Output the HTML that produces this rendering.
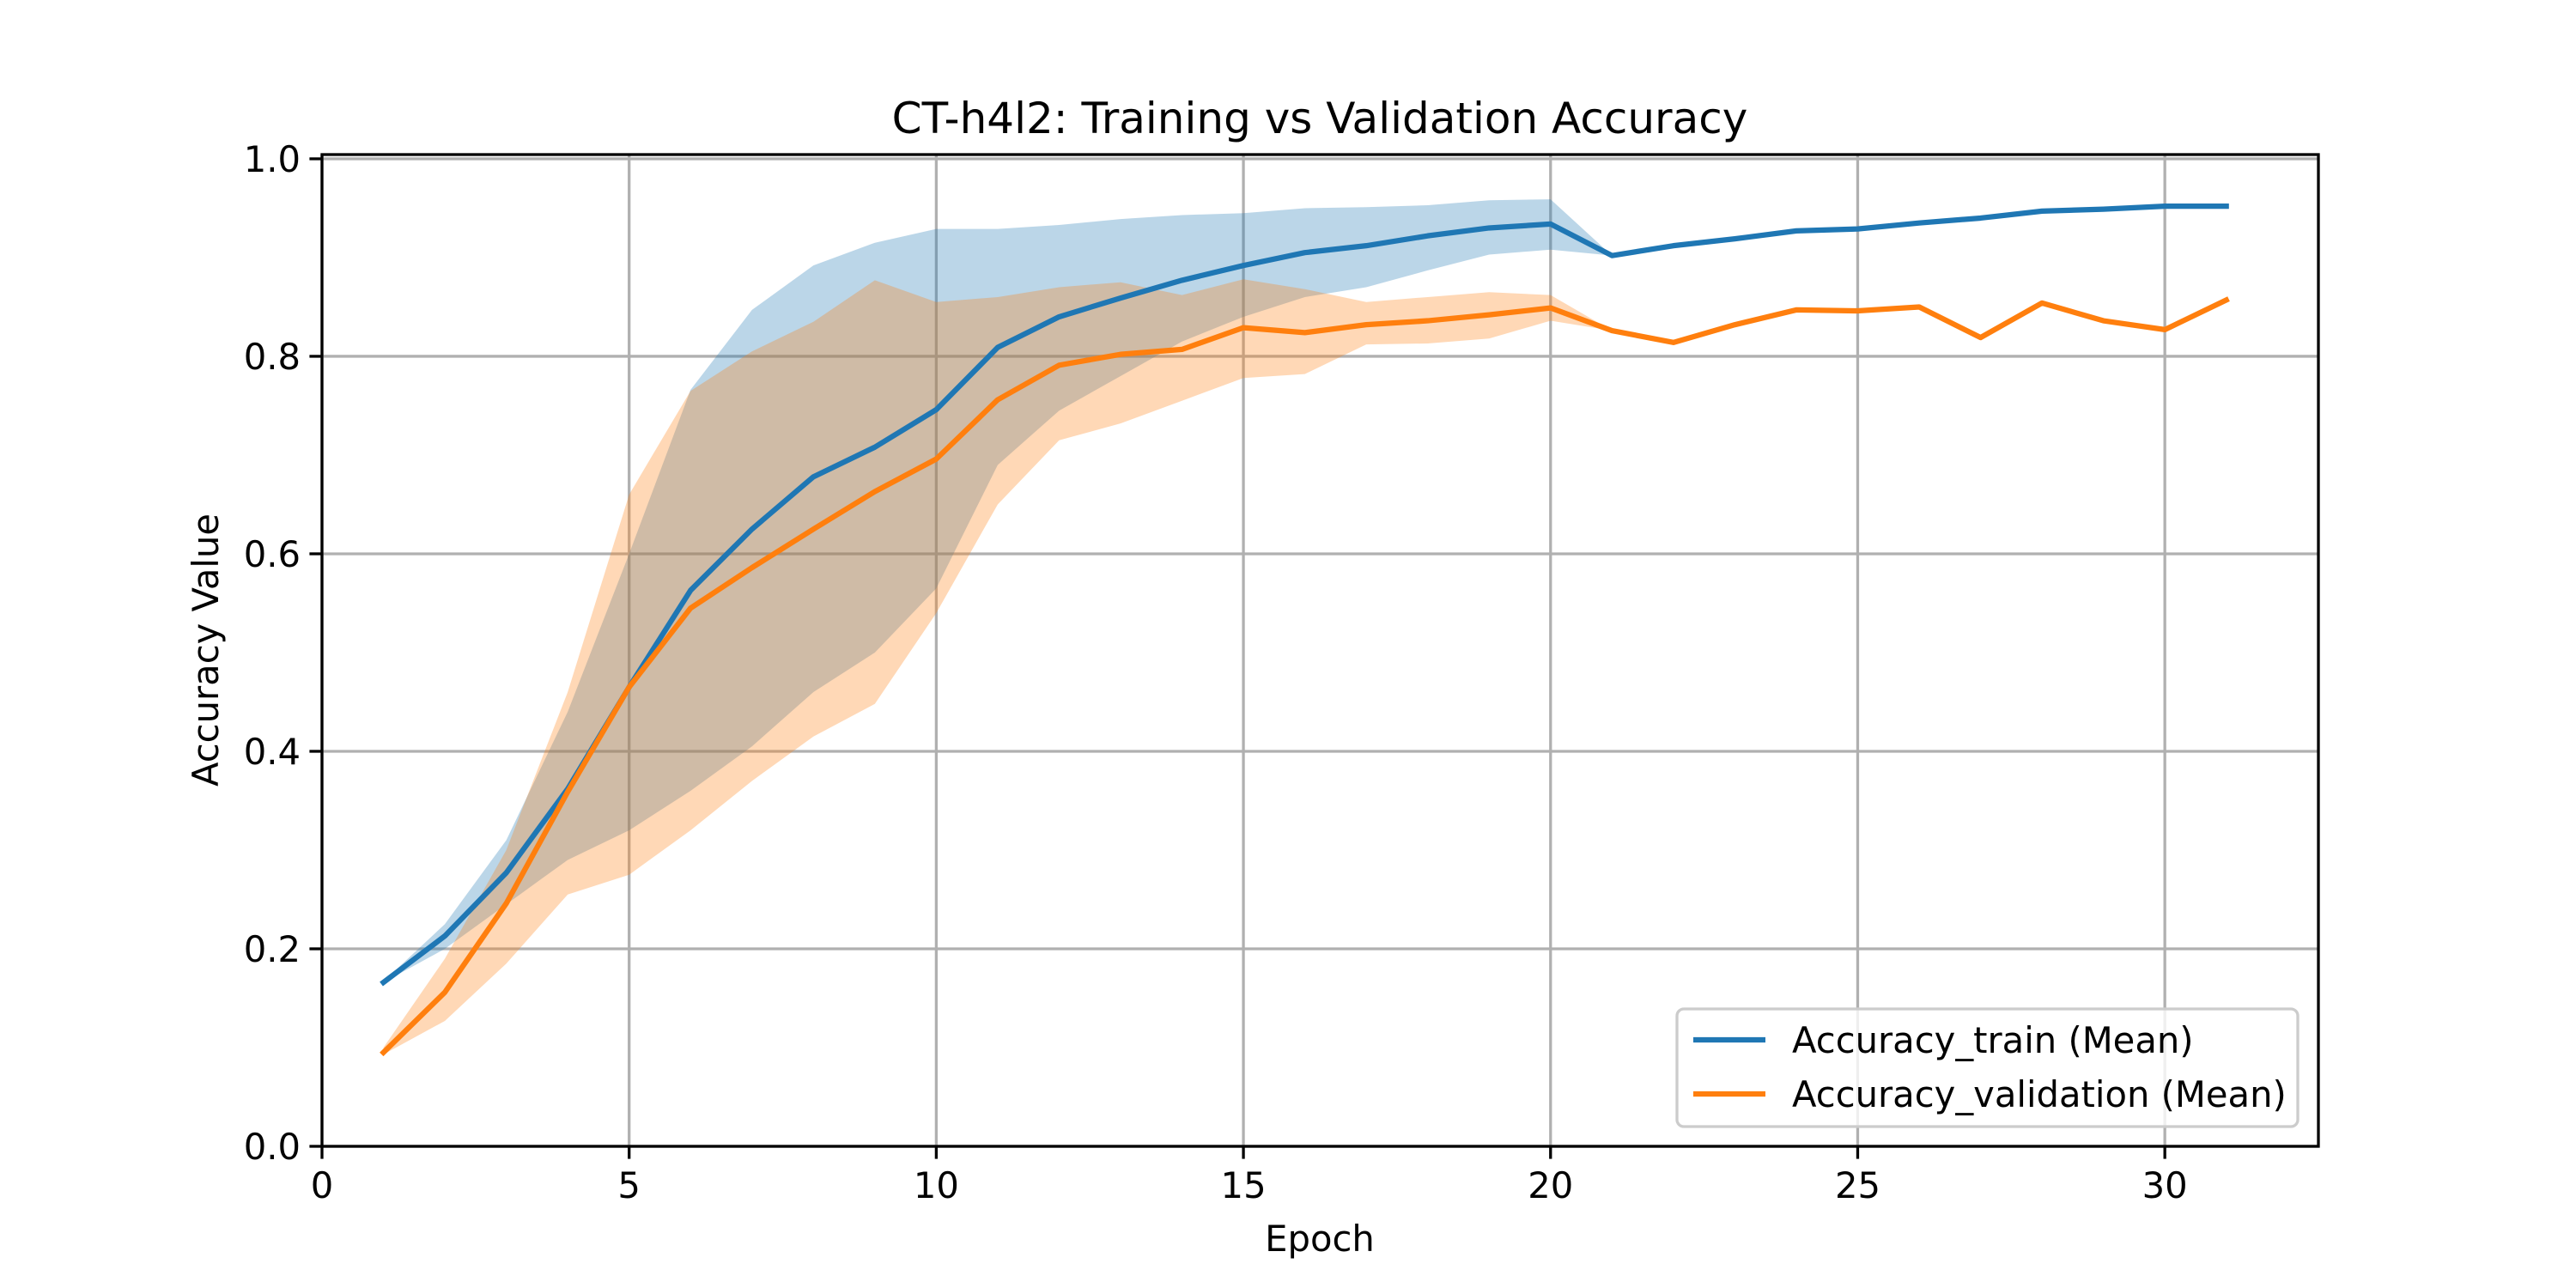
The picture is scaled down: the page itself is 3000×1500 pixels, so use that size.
<!DOCTYPE html>
<html><head><meta charset="utf-8"><style>
html,body{margin:0;padding:0;background:#fff}
svg{display:block;font-family:"DejaVu Sans","Liberation Sans",sans-serif}
</style></head><body>
<svg id="chart" width="3000" height="1500" viewBox="0 0 3000 1500" xmlns="http://www.w3.org/2000/svg">
<rect width="3000" height="1500" fill="#fff"/>
<g id="grid"></g>
<g id="bands"></g>
<g id="lines"></g>
<g id="axes"></g>
<text x="1537" y="155" font-size="50" text-anchor="middle">CT-h4l2: Training vs Validation Accuracy</text>
<text x="1537" y="1457" font-size="41.7" text-anchor="middle">Epoch</text>
<text transform="translate(254,757) rotate(-90)" font-size="41.7" text-anchor="middle">Accuracy Value</text>
<g>
<rect x="1953" y="1175" width="723" height="137" rx="8" fill="#fff" fill-opacity="0.8" stroke="#cccccc" stroke-width="3.3"/>
<line x1="1972" y1="1211" x2="2056" y2="1211" stroke="#1f77b4" stroke-width="6.25"/>
<text x="2087" y="1226" font-size="41.7">Accuracy_train (Mean)</text>
<line x1="1972" y1="1274" x2="2056" y2="1274" stroke="#ff7f0e" stroke-width="6.25"/>
<text x="2087" y="1289" font-size="41.7">Accuracy_validation (Mean)</text>
</g>
</svg>
<script>
const epochs = [1,2,3,4,5,6,7,8,9,10,11,12,13,14,15,16,17,18,19,20,21,22,23,24,25,26,27,28,29,30,31];
const trainMean = [0.166,0.213,0.277,0.362,0.465,0.563,0.625,0.678,0.708,0.746,0.809,0.84,0.859,0.877,0.892,0.905,0.912,0.922,0.930,0.934,0.902,0.912,0.919,0.927,0.929,0.935,0.940,0.947,0.949,0.952,0.952];
const trainUpper = [0.167,0.225,0.31,0.44,0.60,0.766,0.847,0.892,0.915,0.929,0.929,0.933,0.939,0.943,0.945,0.950,0.951,0.953,0.958,0.959,0.902];
const trainLower = [0.166,0.20,0.245,0.29,0.32,0.36,0.405,0.46,0.50,0.565,0.69,0.745,0.78,0.815,0.84,0.86,0.87,0.887,0.903,0.908,0.902];
const valMean = [0.095,0.156,0.246,0.359,0.465,0.545,0.586,0.625,0.663,0.696,0.756,0.791,0.802,0.807,0.829,0.824,0.832,0.836,0.842,0.849,0.826,0.814,0.832,0.847,0.846,0.850,0.819,0.854,0.836,0.827,0.857];
const valUpper = [0.10,0.19,0.30,0.46,0.66,0.765,0.805,0.835,0.877,0.855,0.86,0.87,0.875,0.862,0.878,0.868,0.855,0.86,0.865,0.862,0.826];
const valLower = [0.093,0.127,0.185,0.255,0.275,0.32,0.37,0.415,0.448,0.54,0.65,0.715,0.732,0.755,0.778,0.782,0.812,0.813,0.818,0.836,0.826];
const xTicks = [0,5,10,15,20,25,30];
const yTicks = [0.0,0.2,0.4,0.6,0.8,1.0];
const yTickLabels = ["0.0","0.2","0.4","0.6","0.8","1.0"];

const L=375,R=2700,T=180,B=1335,XMIN=0,XMAX=32.5,YMIN=0,YMAX=1.0043;
const sx=v=>L+(v-XMIN)/(XMAX-XMIN)*(R-L);
const sy=v=>B-(v-YMIN)/(YMAX-YMIN)*(B-T);
const NS="http://www.w3.org/2000/svg";
function mk(tag,parent,attrs){const e=document.createElementNS(NS,tag);for(const k in attrs)e.setAttribute(k,attrs[k]);parent.appendChild(e);return e;}
const grid=document.getElementById('grid'),bands=document.getElementById('bands'),lines=document.getElementById('lines'),axes=document.getElementById('axes');

xTicks.forEach(t=>{
  const g=mk('line',grid,{x1:sx(t),x2:sx(t),y1:T,y2:B,stroke:'#b0b0b0','stroke-width':3.3});
  
  
  const tk=mk('line',axes,{x1:sx(t),x2:sx(t),y1:B,y2:B+14.6,stroke:'#000','stroke-width':3.3});
  
  
  const tx=mk('text',axes,{x:sx(t),y:B+60,'font-size':41.7,'text-anchor':'middle'});
  tx.textContent=String(t);
  
  
});
yTicks.forEach((t,i)=>{
  const g=mk('line',grid,{x1:L,x2:R,y1:sy(t),y2:sy(t),stroke:'#b0b0b0','stroke-width':3.3});
  
  
  const tk=mk('line',axes,{x1:L-14.6,x2:L,y1:sy(t),y2:sy(t),stroke:'#000','stroke-width':3.3});
  
  
  const tx=mk('text',axes,{x:L-25,y:sy(t)+15,'font-size':41.7,'text-anchor':'end'});
  tx.textContent=yTickLabels[i];
  
  
});
function band(up,lo,color,name){
  let d='';
  up.forEach((v,i)=>{d+=(i?'L':'M')+sx(epochs[i])+','+sy(v);});
  for(let i=lo.length-1;i>=0;i--)d+='L'+sx(epochs[i])+','+sy(lo[i]);
  const p=mk('path',bands,{d:d+'Z',fill:color,'fill-opacity':0.3});
  
  
}
band(trainUpper,trainLower,'#1f77b4');

band(valUpper,valLower,'#ff7f0e');

function line(vals,color){
  const pts=vals.map((v,i)=>sx(epochs[i])+','+sy(v)).join(' ');
  return mk('polyline',lines,{points:pts,fill:'none',stroke:color,'stroke-width':6.25,'stroke-linejoin':'round','stroke-linecap':'square'});
}
const tl=line(trainMean,'#1f77b4');


const vl=line(valMean,'#ff7f0e');


const frame=mk('rect',axes,{x:L,y:T,width:R-L,height:B-T,fill:'none',stroke:'#000','stroke-width':3.3});


</script>
</body></html>
